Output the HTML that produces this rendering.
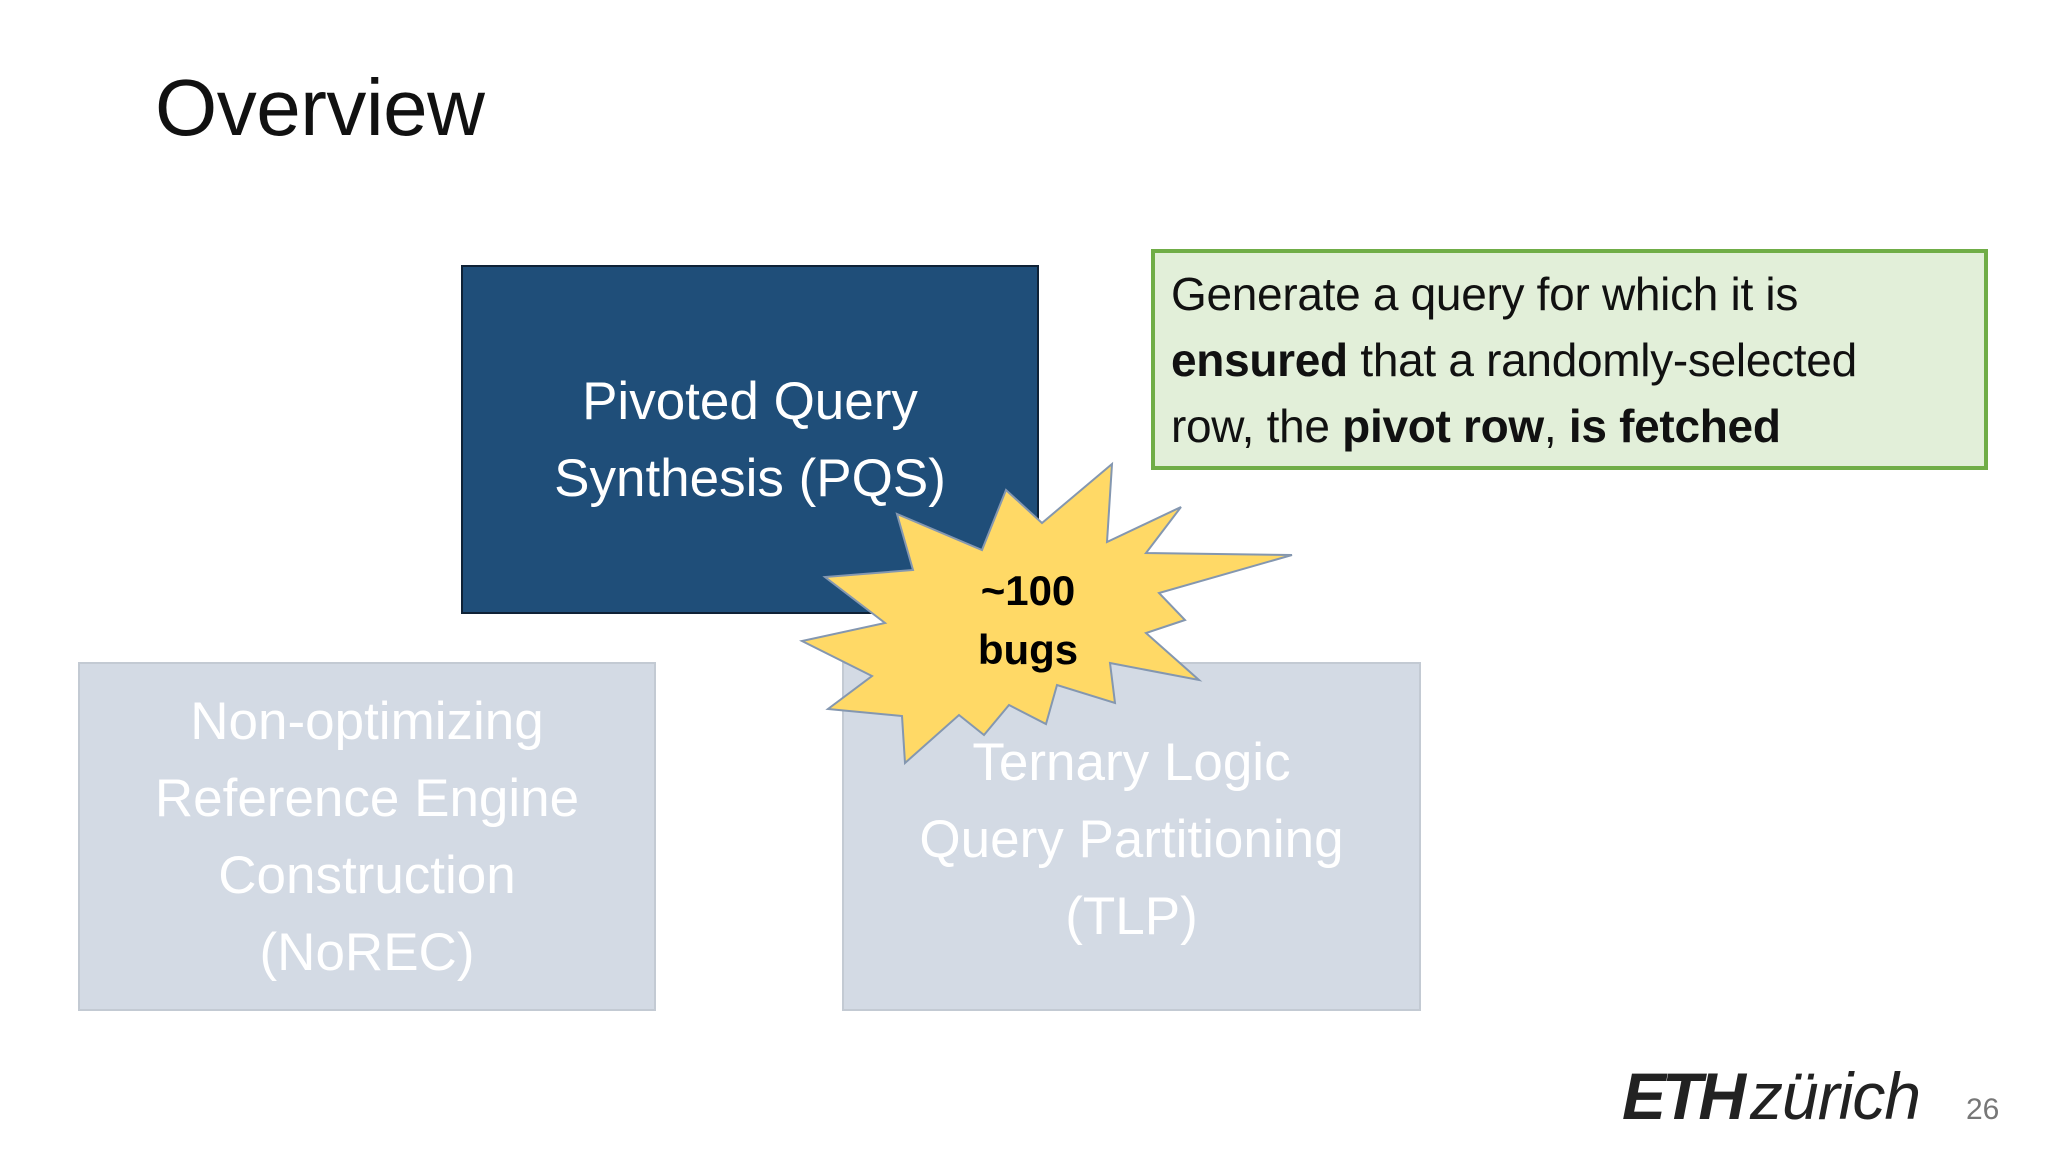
<!DOCTYPE html>
<html><head><meta charset="utf-8"><style>
body{margin:0;width:2048px;height:1152px;background:#fff;position:relative;overflow:hidden;font-family:"Liberation Sans","DejaVu Sans",sans-serif}
.abs{position:absolute}
.box{position:absolute;box-sizing:border-box;display:flex;flex-direction:column;align-items:center;justify-content:center;text-align:center}
</style></head><body>
<div class="abs" style="left:155px;top:62px;font-size:80px;color:#111;letter-spacing:-0.5px">Overview</div>

<div class="box" style="left:461px;top:265px;width:578px;height:349px;background:#1f4e79;border:2px solid #0f2236;color:#fff;font-size:53px;line-height:77px;padding-bottom:0px">
<div>Pivoted Query</div><div>Synthesis (PQS)</div></div>

<div class="box" style="left:1151px;top:249px;width:837px;height:221px;background:#e2efd9;border:4px solid #70ad47;align-items:flex-start;text-align:left;padding-left:16px;color:#111;font-size:46px;line-height:66px;letter-spacing:-0.3px">
<div>Generate a query for which it is</div>
<div><b>ensured</b> that a randomly-selected</div>
<div>row, the <b>pivot row</b>, <b>is fetched</b></div></div>

<div class="box" style="left:78px;top:662px;width:578px;height:349px;background:#d3dae4;border:2px solid #c3cad3;color:#fff;font-size:53px;line-height:77px">
<div>Non-optimizing</div><div>Reference Engine</div><div>Construction</div><div>(NoREC)</div></div>

<div class="box" style="left:842px;top:662px;width:579px;height:349px;background:#d3dae4;border:2px solid #c3cad3;color:#fff;font-size:53px;line-height:77px;padding-top:6px">
<div>Ternary Logic</div><div>Query Partitioning</div><div>(TLP)</div></div>

<svg class="abs" style="left:0;top:0" width="2048" height="1152">
<polygon fill="#ffd966" stroke="#8497b0" stroke-width="2" points="1006,490 1042,523 1112,464 1107,542 1181,507 1146,553 1292,555 1159,593 1185,620 1146,633 1199,680 1110,663 1115,703 1057,685 1046,724 1009,705 984,735 959,715 905,763 902,716 828,709 872,676 802,641 885,623 825,577 913,570 897,514 982,550"/>
<text x="1028" y="605" text-anchor="middle" font-family="Liberation Sans, sans-serif" font-weight="bold" font-size="42" fill="#000">~100</text>
<text x="1028" y="664" text-anchor="middle" font-family="Liberation Sans, sans-serif" font-weight="bold" font-size="42" fill="#000">bugs</text>
</svg>

<div class="abs" style="left:1622px;top:1058px;font-size:66px;color:#222;font-style:italic;white-space:nowrap;letter-spacing:-1px"><span style="font-weight:900;letter-spacing:-4px">ETH</span><span style="margin-left:8px">zürich</span></div>
<div class="abs" style="left:1966px;top:1093px;font-size:30px;color:#777">26</div>
</body></html>
